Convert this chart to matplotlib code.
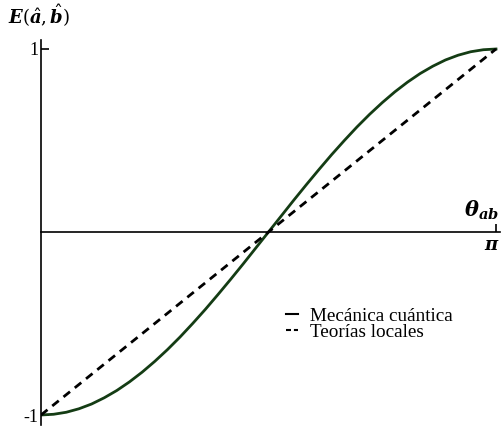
import numpy as np
import matplotlib
matplotlib.use('Agg')
import matplotlib.pyplot as plt

plt.rcParams['font.family'] = ['Liberation Serif', 'DejaVu Serif']
plt.rcParams['mathtext.fontset'] = 'dejavuserif'

# angle theta_ab in degrees, read at 5 deg steps
THETA_DEG = list(range(0, 181, 5))
# quantum mechanics correlation
E_QM = [-1.0, -0.996, -0.985, -0.966, -0.940, -0.906, -0.866, -0.819, -0.766, -0.707,
        -0.643, -0.574, -0.5, -0.423, -0.342, -0.259, -0.174, -0.087, 0.0,
        0.087, 0.174, 0.259, 0.342, 0.423, 0.5, 0.574, 0.643, 0.707, 0.766,
        0.819, 0.866, 0.906, 0.940, 0.966, 0.985, 0.996, 1.0]
# local theories (straight line)
THETA_LOC = [0, 180]
E_LOC = [-1.0, 1.0]

W, H = 501, 426
fig = plt.figure(figsize=(W / 100, H / 100), dpi=100)
x0, x1 = 41, 500
ytop, ybot = 40, 425
ax = fig.add_axes([x0 / W, 1 - ybot / H, (x1 - x0) / W, (ybot - ytop) / H])

th = np.radians(THETA_DEG)
thl = np.radians(THETA_LOC)
ax.plot(th, E_QM, color='#143c14', lw=2.0, label='Mecánica cuántica')
ax.plot(thl, E_LOC, color='black', lw=2.0, ls=(0, (3, 2.2)), label='Teorías locales')

ax.set_xlim(0, np.pi * (x1 - x0) / (496 - x0))
ax.set_ylim(-1 - 10 / 183, 1 + 9 / 183)

for s in ['top', 'right']:
    ax.spines[s].set_visible(False)
ax.spines['bottom'].set_position(('data', 0))
ax.spines['left'].set_linewidth(1.2)
ax.spines['bottom'].set_linewidth(1.2)

ax.set_yticks([-1, 1])
ax.set_yticklabels(['-1', '1'])
ax.set_xticks([np.pi])
ax.set_xticklabels([])
ax.tick_params(axis='y', direction='in', length=6, width=1.2, labelsize=13, pad=2)
ax.tick_params(axis='x', direction='in', length=6, width=1.2)
ax.text(492 / W, 1 - 246 / H, r'$\mathbfit{\pi}$', transform=fig.transFigure,
        fontsize=13, ha='center', va='center')

fig.text(8 / W, 1 - 16 / H, r'$\mathbfit{E}(\hat{\mathbfit{a}},\hat{\mathbfit{b}})$',
         fontsize=13, va='center', ha='left')
fig.text(499 / W, 1 - 210 / H, r'$\mathbfit{\theta}_{\mathbfit{ab}}$',
         fontsize=15, va='center', ha='right')

leg = ax.legend(loc='upper left', bbox_to_anchor=((278 - x0) / (x1 - x0), (ybot - 300) / (ybot - ytop)),
                frameon=False, handlelength=0.65, handletextpad=0.6, labelspacing=-0.1,
                fontsize=13.8, borderaxespad=0)
hl = leg.get_lines()
hl[0].set_linewidth(1.5)
hl[0].set_color('black')
hl[1].set_linewidth(1.5)
hl[1].set_linestyle((0, (2.4, 1.4)))

plt.savefig('out.png', dpi=100)
